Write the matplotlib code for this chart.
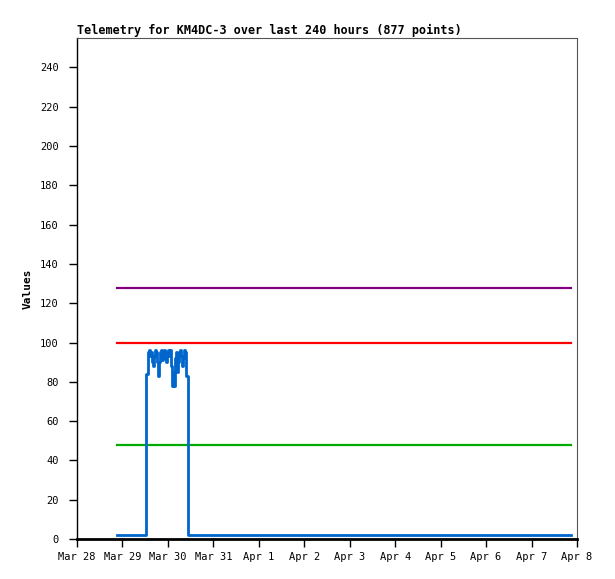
import matplotlib
matplotlib.use("Agg")
import matplotlib.pyplot as plt
import matplotlib.dates as mdates
import numpy as np
from datetime import datetime, timedelta

# telemetry window: last 240 hours
start_time = datetime(2024, 3, 28, 21, 0)

# hours since start_time, value (step data)
hours = [0.0, 15.3, 15.6, 15.8, 16.4, 16.9, 17.4, 18.0, 18.5, 19.0, 19.5,
         20.1, 20.6, 21.1, 21.6, 22.2, 22.7, 23.2, 23.8, 24.3, 24.8, 25.3,
         25.9, 26.4, 26.9, 27.5, 28.0, 28.5, 29.0, 29.6, 30.1, 30.6, 31.2,
         31.7, 32.2, 32.7, 33.3, 33.8, 34.3, 34.8, 35.4, 35.9, 36.4, 36.9,
         37.5, 240.0]
values = [2, 60, 84, 84, 95, 96, 93, 95, 90, 88, 93,
          96, 95, 90, 83, 90, 95, 96, 91, 94, 96, 92,
          90, 95, 96, 93, 96, 88, 78, 85, 78, 92, 95,
          85, 90, 95, 96, 93, 88, 92, 96, 95, 83, 83,
          2, 2]

# threshold lines
thresholds = [128, 100, 48]
threshold_colors = ["#800080", "#ff0000", "#00aa00"]

y_ticks = list(range(0, 241, 20))
x_start = datetime(2024, 3, 28)
x_end = datetime(2024, 4, 8)

times = [start_time + timedelta(hours=h) for h in hours]
t0, t1 = times[0], times[-1]

fig = plt.figure(figsize=(6.15, 5.79), dpi=100)
ax = fig.add_axes([77 / 615, 40 / 579, 500 / 615, 501 / 579])

for level, col in zip(thresholds, threshold_colors):
    ax.plot([t0, t1], [level, level], color=col, linewidth=1.6)

ax.plot(times, values, color="#0066cc", linewidth=2, drawstyle="steps-post")

ax.set_xlim(x_start, x_end)
ax.set_ylim(0, 255)
ax.set_yticks(y_ticks)
ax.xaxis.set_major_locator(mdates.DayLocator())
ax.xaxis.set_major_formatter(mdates.DateFormatter("%b %-d"))

mono = "DejaVu Sans Mono"
for lbl in ax.get_xticklabels() + ax.get_yticklabels():
    lbl.set_family(mono)
    lbl.set_fontsize(7.5)
ax.tick_params(axis="both", direction="out", length=6, width=1, color="black", pad=7)
ax.tick_params(axis="x", pad=3)

ax.spines["left"].set_color("black")
ax.spines["left"].set_linewidth(1)
ax.spines["bottom"].set_color("black")
ax.spines["bottom"].set_linewidth(2)
ax.spines["top"].set_color("#555555")
ax.spines["right"].set_color("#555555")
ax.spines["top"].set_linewidth(0.8)
ax.spines["right"].set_linewidth(0.8)

ax.set_ylabel("Values", family=mono, fontsize=8, fontweight="bold", labelpad=18)
ax.yaxis.set_label_coords(-44 / 500, 0.5)
ax.set_title("Telemetry for KM4DC-3 over last 240 hours (877 points)",
             family=mono, fontsize=8.5, fontweight="bold", loc="left", pad=3)

fig.savefig("out.png", dpi=100)
